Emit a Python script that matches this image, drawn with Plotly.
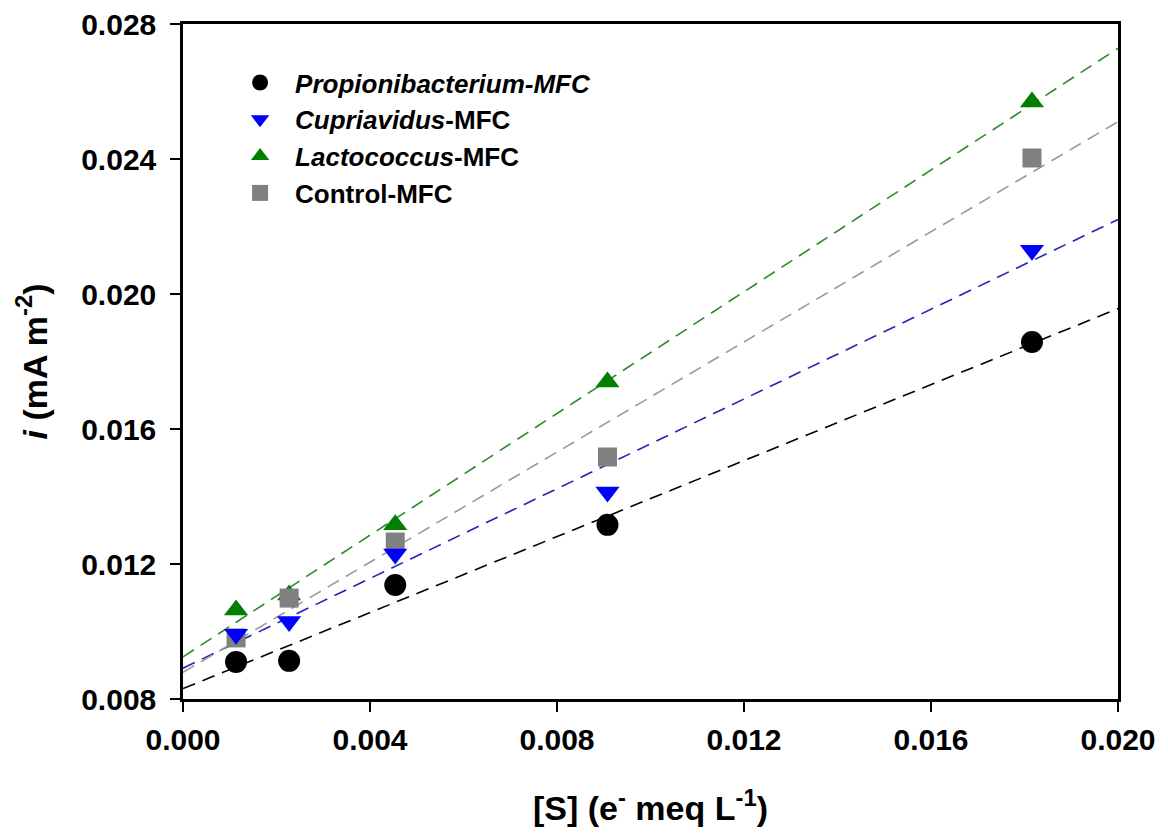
import numpy as np
import plotly.graph_objects as go

# ---- data ----
substrate = [0.001135, 0.00227, 0.00454, 0.00908, 0.01816]   # [S] (e- meq L-1)

propionibacterium = [0.00910, 0.00913, 0.01138, 0.01316, 0.01858]
cupriavidus       = [0.00992, 0.01030, 0.01230, 0.01413, 0.02130]
lactococcus       = [0.01064, 0.01108, 0.01316, 0.01739, 0.02569]
control           = [0.00981, 0.01099, 0.01265, 0.01517, 0.02403]

series_names = ["<b><i>Propionibacterium-MFC</i></b>",
                "<b><i>Cupriavidus</i>-MFC</b>",
                "<b><i>Lactococcus</i>-MFC</b>",
                "<b>Control-MFC</b>"]

x_ticks = [0.000, 0.004, 0.008, 0.012, 0.016, 0.020]
y_ticks = [0.008, 0.012, 0.016, 0.020, 0.024, 0.028]

# ---- styles ----
series = [
    dict(y=propionibacterium, name=series_names[0], symbol="circle", mcolor="#000000", lcolor="#000000", size=22, rank=1),
    dict(y=cupriavidus, name=series_names[1], symbol="triangle-down", mcolor="#0000FF", lcolor="#2424B8", size=21, rank=2),
    dict(y=lactococcus, name=series_names[2], symbol="triangle-up", mcolor="#008000", lcolor="#2A8A2A", size=21, rank=3),
    dict(y=control, name=series_names[3], symbol="square", mcolor="#808080", lcolor="#9A9A9A", size=19, rank=4),
]

fig = go.Figure()

x_fit = np.array([x_ticks[0], x_ticks[-1]])
# regression lines first
for s in series:
    slope, intercept = np.polyfit(substrate, s["y"], 1)
    fig.add_trace(go.Scatter(
        x=x_fit, y=slope * x_fit + intercept, mode="lines",
        line=dict(color=s["lcolor"], width=1.6, dash="13px,8px"),
        showlegend=False, hoverinfo="skip"))

# markers (drawing order: green, gray, blue, black)
for idx in [2, 3, 1, 0]:
    s = series[idx]
    fig.add_trace(go.Scatter(
        x=substrate, y=s["y"], mode="markers", name=s["name"],
        legendrank=s["rank"],
        marker=dict(symbol=s["symbol"], color=s["mcolor"], size=s["size"],
                    line=dict(width=0))))

axis_common = dict(
    showline=True, linecolor="black", linewidth=2.5, mirror=True,
    ticks="outside", ticklen=10, tickwidth=2, tickcolor="black",
    showgrid=False, zeroline=False, automargin=False,
    tickfont=dict(family="Liberation Sans, Arial", size=30, color="black"),
)

fig.update_layout(
    width=1168, height=835,
    margin=dict(l=183, r=50, t=24, b=136),
    plot_bgcolor="white", paper_bgcolor="white",
    font=dict(family="Liberation Sans, Arial", color="black"),
    xaxis=dict(range=[x_ticks[0], x_ticks[-1]], tickvals=x_ticks,
               ticktext=[f"<b>{v:.3f}</b>" for v in x_ticks],
               ticklabelstandoff=2,
               title=dict(text="<b>[S] (e<sup>-</sup> meq L<sup>-1</sup>)</b>",
                          font=dict(size=34), standoff=42),
               **axis_common),
    yaxis=dict(range=[y_ticks[0], y_ticks[-1]], tickvals=y_ticks,
               ticktext=[f"<b>{v:.3f}</b>" for v in y_ticks],
               ticklabelstandoff=8,
               title=dict(text="<b><i>i</i> (mA m<sup>-2</sup>)</b>",
                          font=dict(size=34), standoff=24),
               **axis_common),
    legend=dict(x=0.045, y=0.948, xanchor="left", yanchor="top",
                bgcolor="rgba(0,0,0,0)", font=dict(size=26),
                traceorder="normal", tracegroupgap=1, itemwidth=60),
)

fig.write_html("out.html")
